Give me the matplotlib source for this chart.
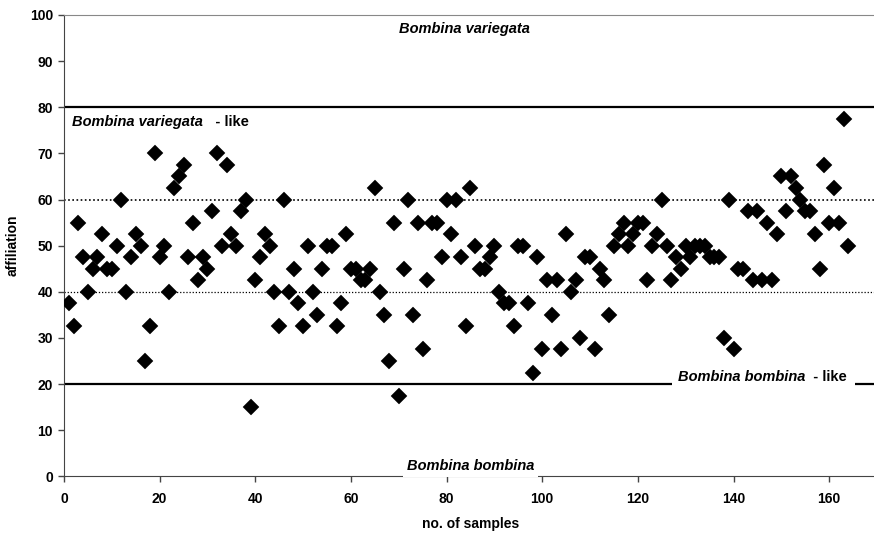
import matplotlib
matplotlib.use("Agg")
import matplotlib.pyplot as plt

plt.rcParams['font.family'] = ['Liberation Sans', 'DejaVu Sans']

# affiliation score of each sample (samples numbered 1..164)
affiliation = [
    37.5, 32.5, 55, 47.5, 40, 45, 47.5, 52.5, 45, 45,
    50, 60, 40, 47.5, 52.5, 50, 25, 32.5, 70, 47.5,
    50, 40, 62.5, 65, 67.5, 47.5, 55, 42.5, 47.5, 45,
    57.5, 70, 50, 67.5, 52.5, 50, 57.5, 60, 15, 42.5,
    47.5, 52.5, 50, 40, 32.5, 60, 40, 45, 37.5, 32.5,
    50, 40, 35, 45, 50, 50, 32.5, 37.5, 52.5, 45,
    45, 42.5, 42.5, 45, 62.5, 40, 35, 25, 55, 17.5,
    45, 60, 35, 55, 27.5, 42.5, 55, 55, 47.5, 60,
    52.5, 60, 47.5, 32.5, 62.5, 50, 45, 45, 47.5, 50,
    40, 37.5, 37.5, 32.5, 50, 50, 37.5, 22.5, 47.5, 27.5,
    42.5, 35, 42.5, 27.5, 52.5, 40, 42.5, 30, 47.5, 47.5,
    27.5, 45, 42.5, 35, 50, 52.5, 55, 50, 52.5, 55,
    55, 42.5, 50, 52.5, 60, 50, 42.5, 47.5, 45, 50,
    47.5, 50, 50, 50, 47.5, 47.5, 47.5, 30, 60, 27.5,
    45, 45, 57.5, 42.5, 57.5, 42.5, 55, 42.5, 52.5, 65,
    57.5, 65, 62.5, 60, 57.5, 57.5, 52.5, 45, 67.5, 55,
    62.5, 55, 77.5, 50,
]
samples = list(range(1, len(affiliation) + 1))

x_ticks = [0, 20, 40, 60, 80, 100, 120, 140, 160]
y_ticks = [0, 10, 20, 30, 40, 50, 60, 70, 80, 90, 100]

fig = plt.figure(figsize=(8.74, 5.33), dpi=100)
W, H = 874, 533
ax = fig.add_axes([64 / W, (H - 476.3) / H, 813 / W, (476.3 - 15) / H])
ax.set_xlim(0, 170)
ax.set_ylim(0, 100)

# zone boundaries
ax.axhline(80, color='black', lw=1.6, zorder=1)
ax.hlines(20, 0, 127.2, color='black', lw=1.6, zorder=1)
ax.hlines(20, 165.3, 170, color='black', lw=1.6, zorder=1)
ax.axhline(60, color='black', lw=1.2, ls=(0, (1, 1.5)), zorder=1)
ax.axhline(40, color='black', lw=0.9, ls=(0, (1, 1.5)), zorder=1)

ax.plot(samples, affiliation, ls='none', marker='D', ms=8, color='black',
        mec='black', mew=0.3, zorder=3)

bold_it = dict(fontsize=10.5, fontweight='bold', fontstyle='italic')
ax.text(83.7, 96.9, 'Bombina variegata', ha='center', va='center', **bold_it)
t1 = ax.text(1.6, 76.7, 'Bombina variegata', ha='left', va='center', **bold_it)
ax.annotate('   - like', xy=(1, 0.5), xycoords=t1, ha='left', va='center',
            fontsize=10.5, fontweight='bold')
t2 = ax.text(128.3, 21.6, 'Bombina bombina', ha='left', va='center', **bold_it)
ax.annotate('  - like', xy=(1, 0.5), xycoords=t2, ha='left', va='center',
            fontsize=10.5, fontweight='bold')
ax.text(85, 2.2, 'Bombina bombina', ha='center', va='center', zorder=5, clip_on=False,
        bbox=dict(facecolor='white', edgecolor='none', pad=2.5), **bold_it)

ax.set_xticks(x_ticks)
ax.set_yticks(y_ticks)
ax.tick_params(direction='out', length=4, width=1, color='#444444',
               labelsize=10)
ax.tick_params(axis='x', pad=7)
ax.tick_params(axis='y', pad=4)
for lab in ax.get_xticklabels() + ax.get_yticklabels():
    lab.set_fontweight('bold')

ax.spines['right'].set_visible(False)
ax.spines['top'].set_color('#888888')
ax.spines['left'].set_color('#444444')
ax.spines['bottom'].set_color('#444444')
ax.spines['bottom'].set_zorder(0)

ax.set_xlabel('no. of samples', fontsize=10, fontweight='bold', labelpad=8)
ax.set_ylabel('affiliation', fontsize=10, fontweight='bold', labelpad=7)

fig.savefig('out.png', dpi=100)
